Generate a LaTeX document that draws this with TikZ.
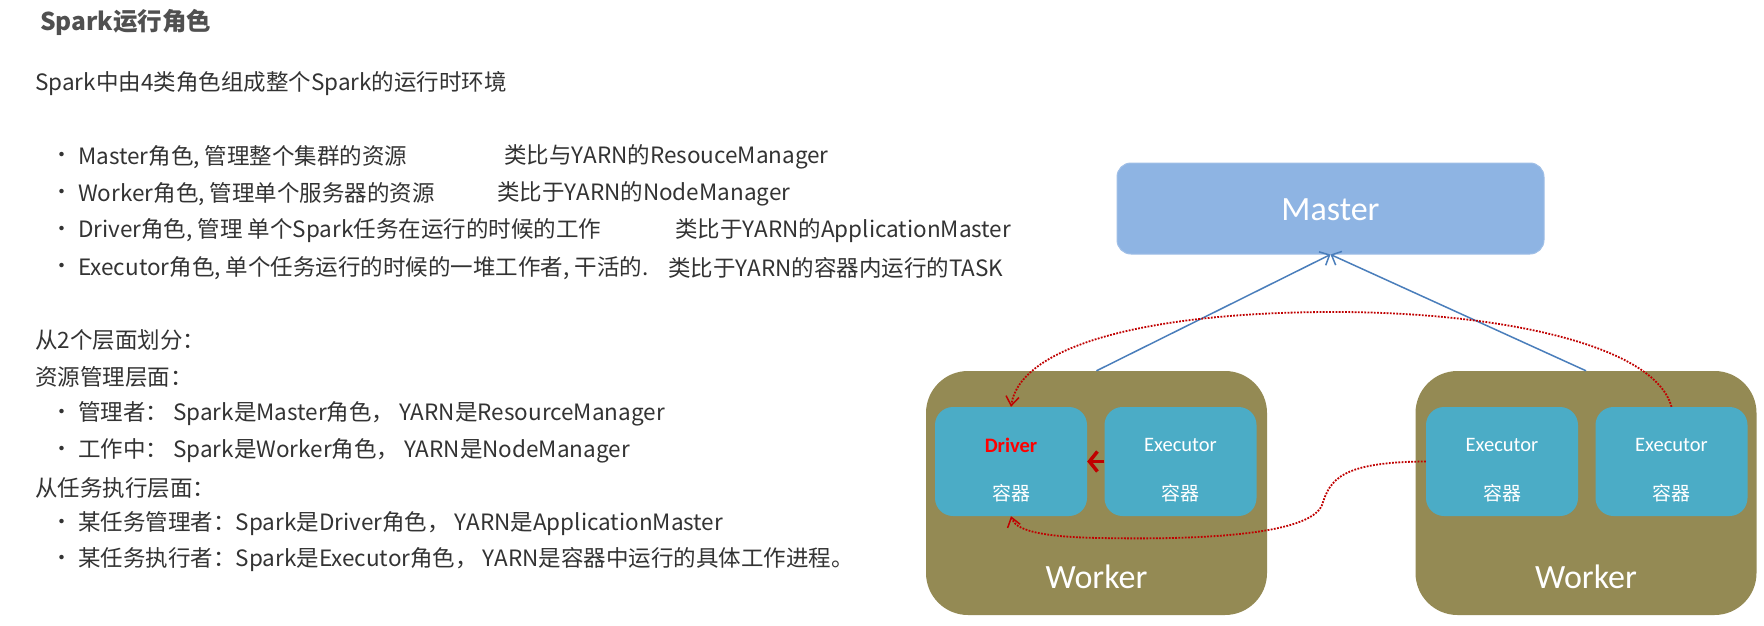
\documentclass[tikz,border=0pt]{standalone}
\usepackage{fontspec}
\setmainfont{Noto Sans CJK SC}
\newfontfamily\calfont{Carlito}
\usetikzlibrary{arrows.meta}
\definecolor{txtgray}{HTML}{333333}
\definecolor{ttlgray}{HTML}{505050}
\definecolor{mfill}{HTML}{8EB4E3}
\definecolor{wfill}{HTML}{948A54}
\definecolor{cfill}{HTML}{4BACC6}
\definecolor{bline}{HTML}{4A7EBB}
\definecolor{rdot}{HTML}{C00000}
\definecolor{drv}{HTML}{FF0000}
\begin{document}
\begin{tikzpicture}[x=1pt,y=-1pt,
  body/.style={anchor=west, inner sep=0pt, text=txtgray, font=\fontsize{22.5}{27}\selectfont},
  ttl/.style={anchor=west, inner sep=0pt, text=ttlgray, font=\bfseries\fontsize{24.5}{29}\selectfont},
  bul/.style={anchor=center, inner sep=0pt, text=txtgray, font=\fontsize{21}{24}\selectfont},
  masterbox/.style={fill=mfill, draw=mfill!85!white, line width=1pt, rounded corners=14pt, minimum width=427pt, minimum height=91pt, inner sep=0pt},
  workerbox/.style={fill=wfill, rounded corners=42pt, minimum width=341pt, minimum height=244pt, inner sep=0pt},
  ctrbox/.style={fill=cfill, rounded corners=18pt, minimum width=152pt, minimum height=109pt, inner sep=0pt},
  biglbl/.style={text=white, font=\calfont\fontsize{34}{40}\selectfont, inner sep=0pt},
  smlbl/.style={text=white, font=\calfont\fontsize{20.5}{24}\selectfont, inner sep=0pt},
  drvlbl/.style={text=drv, font=\calfont\bfseries\fontsize{20.5}{24}\selectfont, inner sep=0pt},
  cjklbl/.style={text=white, font=\fontsize{19}{22}\selectfont, inner sep=0pt},
  bluearrow/.style={draw=bline, line width=1.5pt, -{Straight Barb[length=8pt,width=15pt]}},
  reddots/.style={draw=rdot, line width=1.8pt, dash pattern=on 1.8pt off 1.4pt, -{Straight Barb[length=9pt,width=13pt,line width=1.5pt]}},
  redthick/.style={draw=rdot, line width=3.5pt, -{Straight Barb[length=8pt,width=20pt]}}
]
\useasboundingbox (0,0) rectangle (1764,626);
\fill[white] (0,0) rectangle (1764,626);

% ---- text column ----
\node[ttl] (title) at (40,22) {Spark运行角色};
\node[body] (intro) at (35,84) {Spark中由4类角色组成整个Spark的运行时环境};

\node[bul] (b1) at (62,157) {•};
\node[body] (t1) at (78,157) {Master角色, 管理整个集群的资源};
\node[body] (c1) at (504,157) {类比与YARN的ResouceManager};
\node[bul] (b2) at (62,194) {•};
\node[body] (t2) at (78,194) {Worker角色, 管理单个服务器的资源};
\node[body] (c2) at (497,194) {类比于YARN的NodeManager};
\node[bul] (b3) at (62,231) {•};
\node[body] (t3) at (78,231) {Driver角色, 管理 单个Spark任务在运行的时候的工作};
\node[body] (c3) at (675,231) {类比于YARN的ApplicationMaster};
\node[bul] (b4) at (62,268) {•};
\node[body] (t4) at (78,268) {Executor角色, 单个任务运行的时候的一堆工作者, 干活的.};
\node[body] (c4) at (668,268) {类比于YARN的容器内运行的TASK};

\node[body] (h1) at (35,340) {从2个层面划分：};
\node[body] (h2) at (35,377) {资源管理层面：};
\node[bul] (b5) at (62,414) {•};
\node[body] (t5) at (78,414) {管理者：\hspace{5pt}Spark是Master角色，\hspace{5pt}YARN是ResourceManager};
\node[bul] (b6) at (62,451) {•};
\node[body] (t6) at (78,451) {工作中：\hspace{5pt}Spark是Worker角色，\hspace{5pt}YARN是NodeManager};
\node[body] (h3) at (35,488) {从任务执行层面：};
\node[bul] (b7) at (62,524) {•};
\node[body] (t7) at (78,524) {某任务管理者：Spark是Driver角色，\hspace{5pt}YARN是ApplicationMaster};
\node[bul] (b8) at (62,560) {•};
\node[body] (t8) at (78,560) {某任务执行者：Spark是Executor角色，\hspace{5pt}YARN是容器中运行的具体工作进程。};

% ---- diagram ----
\node[masterbox] (m) at (1330.5,208.5) {};
\node[biglbl] (mt) at (1330.5,210) {Master};

\node[workerbox] (w1) at (1096.5,493) {};
\node[workerbox] (w2) at (1586,493) {};
\node[biglbl] (w1t) at (1096.5,577) {Worker};
\node[biglbl] (w2t) at (1586,577) {Worker};

\node[ctrbox] (d) at (1011,461.5) {};
\node[ctrbox] (x1) at (1180.5,461.5) {};
\node[ctrbox] (e1) at (1502,461.5) {};
\node[ctrbox] (e2) at (1671.5,461.5) {};

\node[drvlbl] (dt) at (1011,445) {Driver};
\node[cjklbl] (dc) at (1011,493) {容器};
\node[smlbl] (x1t) at (1180.5,445) {Executor};
\node[cjklbl] (x1c) at (1180.5,493) {容器};
\node[smlbl] (e1t) at (1502,445) {Executor};
\node[cjklbl] (e1c) at (1502,493) {容器};
\node[smlbl] (e2t) at (1671.5,445) {Executor};
\node[cjklbl] (e2c) at (1671.5,493) {容器};

\draw[bluearrow] (w1.north) -- (m.south);
\draw[bluearrow] (w2.north) -- (m.south);

\draw[reddots] (e2.north) .. controls (1655,345) and (1500,312) .. (1334,312)
  .. controls (1150,312) and (1020,345) .. (d.north);
\draw[reddots] (e1.west) .. controls (1340,462) and (1330,480) .. (1322,505)
  .. controls (1310,535) and (1200,540) .. (1100,538)
  .. controls (1040,537) and (1015,530) .. (d.south);
\draw[redthick] (x1.west) -- (d.east);
\end{tikzpicture}
\end{document}
